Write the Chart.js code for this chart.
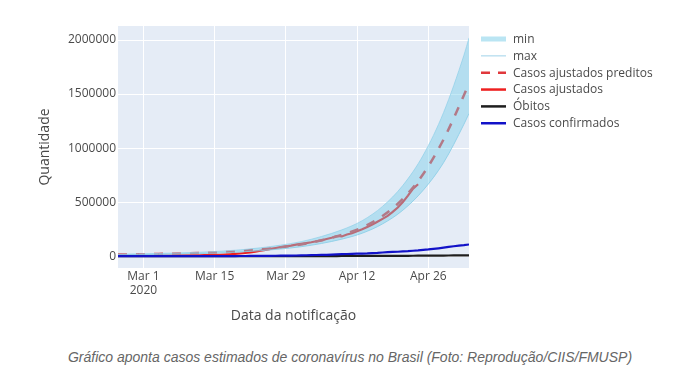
<!DOCTYPE html>
<html>
<head>
<meta charset="utf-8">
<script src="https://cdn.jsdelivr.net/npm/chart.js@4"></script>
<style>
  html, body { margin: 0; padding: 0; background: #ffffff; }
  #wrap { position: relative; width: 675px; height: 383px; overflow: hidden; }
  #c { position: absolute; left: 0; top: 0; }
  #caption { position: absolute; left: 25px; width: 650px; top: 349px; text-align: center;
             font: italic 14px "Liberation Sans", Arial, sans-serif; color: #666; }
</style>
</head>
<body>
<div id="wrap">
  <canvas id="c" width="675" height="340"></canvas>
  <div id="caption">Gráfico aponta casos estimados de coronavírus no Brasil (Foto: Reprodução/CIIS/FMUSP)</div>
</div>
<script>
// ---------------- DATA ----------------
const seriesNames = ["min", "max", "Casos ajustados preditos", "Casos ajustados", "Óbitos", "Casos confirmados"];

// daily dates Feb 25 – May 4, 2020
const dailyDates = (function () {
  const out = [];
  const months = [["02", 25, 29], ["03", 1, 31], ["04", 1, 30], ["05", 1, 4]];
  months.forEach(([m, a, b]) => { for (let d = a; d <= b; d++) out.push("2020-" + m + "-" + String(d).padStart(2, "0")); });
  return out;
})();

// Casos confirmados (daily)
const confirmed = [0, 1, 1, 1, 2,
  2, 2, 2, 3, 8, 13, 19, 25, 25, 34, 52, 77, 98, 121, 200, 234, 291, 428, 621, 904, 1128, 1546, 1891, 2201, 2433, 2915, 3417, 3904, 4256, 4579, 5717,
  6836, 8044, 9056, 10360, 11130, 12056, 13717, 15927, 17857, 19638, 20727, 22169, 23430, 25262, 28320, 30425, 33682, 36599, 38654, 40581, 43079, 45757, 49492, 52995, 58509, 61888, 66501, 71886, 78162, 85380,
  91589, 96559, 101147, 107780];

// Óbitos (daily)
const deaths = [0, 0, 0, 0, 0,
  0, 0, 0, 0, 0, 0, 0, 0, 0, 0, 0, 0, 0, 0, 0, 0, 1, 3, 6, 11, 18, 25, 34, 46, 59, 77, 92, 111, 136, 159, 201,
  240, 324, 359, 445, 486, 553, 667, 800, 941, 1056, 1124, 1223, 1328, 1532, 1736, 1924, 2141, 2347, 2462, 2575, 2741, 2906, 3313, 3670, 4016, 4205, 4543, 5017, 5466, 5901,
  6329, 6750, 7025, 7321];

// Casos ajustados (daily, Feb 25 – Apr 24)
const adjusted = [1000, 1200, 1500, 1800, 2200,
  2600, 3000, 3500, 4000, 4500, 5000, 5500, 6000, 6500, 7000, 7600, 8200, 9000, 10000, 11000, 12500, 14500, 17000, 20000, 24000, 29000, 35000, 42000, 50000, 58000, 67000, 75000, 83000, 90000, 97000, 106000,
  113000, 121000, 128000, 138000, 146000, 158000, 170000, 186000, 182000, 200000, 212000, 230000, 248000, 270000, 292000, 318000, 345000, 372000, 410000, 450000, 500000, 560000, 625000, 665000];

// predicted curve and its bounds
const predDates = ["2020-02-25", "2020-02-29", "2020-03-04", "2020-03-08", "2020-03-12", "2020-03-16", "2020-03-20", "2020-03-24",
  "2020-03-28", "2020-04-01", "2020-04-05", "2020-04-09", "2020-04-13", "2020-04-17", "2020-04-21", "2020-04-25", "2020-04-29", "2020-05-03", "2020-05-04"];
const predicted = [15000, 17000, 20000, 24000, 29000, 36000, 47000, 62000, 82000, 108000, 146000, 196000, 265000, 372000, 530000, 760000, 1080000, 1490000, 1600000];
const maxBound = [18000, 21000, 25000, 30000, 36000, 45000, 58000, 77000, 102000, 134000, 182000, 243000, 328000, 460000, 655000, 935000, 1330000, 1860000, 2020000];
const minBound = [12000, 14000, 16000, 19000, 23000, 29000, 38000, 50000, 66000, 87000, 117000, 157000, 212000, 298000, 425000, 610000, 865000, 1220000, 1320000];

// axis ticks
const xTickDates = ["2020-03-01", "2020-03-15", "2020-03-29", "2020-04-12", "2020-04-26"];
const xTickLabels = [["Mar 1", "2020"], "Mar 15", "Mar 29", "Apr 12", "Apr 26"];
const yTickValues = [0, 500000, 1000000, 1500000, 2000000];

// ---------------- HELPERS ----------------
const ORIGIN = Date.UTC(2020, 2, 1);
function dayOf(s) { const [y, m, d] = s.split("-").map(Number); return (Date.UTC(y, m - 1, d) - ORIGIN) / 86400000; }
function pts(dates, vals) { return dates.map((d, i) => ({ x: dayOf(d), y: vals[i] })).filter(p => p.y !== null && p.y !== undefined); }

const xTickDays = xTickDates.map(dayOf);

const bandFill = "rgba(118,204,232,0.44)";
const colors = {
  min: "rgba(135,205,230,0.8)",
  max: "rgba(160,212,235,0.8)",
  pred: "#e0383c",
  adj: "#ee2020",
  deaths: "#1e1e1e",
  conf: "#1212c8"
};

const bgPlugin = {
  id: "plotbg",
  beforeDraw(chart) {
    const { ctx, chartArea: a } = chart;
    ctx.save();
    ctx.fillStyle = "#E5ECF6";
    ctx.fillRect(a.left, a.top, a.right - a.left, a.bottom - a.top);
    ctx.restore();
  }
};

const legendPlugin = {
  id: "customLegend",
  afterDraw(chart) {
    const ctx = chart.ctx;
    const x0 = 481, x1 = 506, tx = 513, y0 = 39, dy = 16.85;
    ctx.save();
    ctx.font = '12px "Open Sans", sans-serif';
    ctx.textBaseline = "middle";
    const styles = [
      { type: "rect", color: "rgba(118,204,232,0.5)" },
      { type: "line", color: "rgba(175,218,236,1)", width: 1.2, dash: [] },
      { type: "line", color: colors.pred, width: 2.5, dash: [9, 8] },
      { type: "line", color: colors.adj, width: 2.5, dash: [] },
      { type: "line", color: colors.deaths, width: 2.5, dash: [] },
      { type: "line", color: colors.conf, width: 2.5, dash: [] }
    ];
    seriesNames.forEach((name, i) => {
      const y = y0 + i * dy;
      const s = styles[i];
      if (s.type === "rect") {
        ctx.fillStyle = s.color;
        ctx.fillRect(x0, y - 2.5, x1 - x0, 5);
      } else {
        ctx.strokeStyle = s.color;
        ctx.lineWidth = s.width;
        ctx.setLineDash(s.dash);
        ctx.beginPath();
        ctx.moveTo(x0, y);
        ctx.lineTo(x1, y);
        ctx.stroke();
        ctx.setLineDash([]);
      }
      ctx.fillStyle = "#4a4a4a";
      ctx.fillText(name, tx, y + 0.5);
    });
    ctx.restore();
  }
};

function draw() {
  const tickFont = { family: '"Open Sans", sans-serif', size: 12 };
  new Chart(document.getElementById("c"), {
    type: "line",
    data: {
      datasets: [
        { label: seriesNames[0], data: pts(predDates, minBound), borderColor: colors.min, borderWidth: 1,
          backgroundColor: bandFill, fill: 1, cubicInterpolationMode: "monotone", pointRadius: 0, order: 2 },
        { label: seriesNames[1], data: pts(predDates, maxBound), borderColor: colors.max, borderWidth: 1,
          fill: false, cubicInterpolationMode: "monotone", pointRadius: 0, order: 2 },
        { label: seriesNames[2], data: pts(predDates, predicted), borderColor: colors.pred, borderWidth: 2.5,
          borderDash: [9, 9], fill: false, cubicInterpolationMode: "monotone", pointRadius: 0, order: 4 },
        { label: seriesNames[3], data: pts(dailyDates, adjusted), borderColor: colors.adj, borderWidth: 2.2,
          fill: false, tension: 0, pointRadius: 0, order: 5 },
        { label: seriesNames[4], data: pts(dailyDates, deaths), borderColor: colors.deaths, borderWidth: 2.2,
          fill: false, tension: 0, pointRadius: 0, order: 1 },
        { label: seriesNames[5], data: pts(dailyDates, confirmed), borderColor: colors.conf, borderWidth: 2.2,
          fill: false, tension: 0, pointRadius: 0, order: 0 }
      ]
    },
    options: {
      responsive: false,
      animation: false,
      events: [],
      layout: { padding: { left: 0, right: 206, top: 26, bottom: 12 } },
      plugins: { legend: { display: false }, tooltip: { enabled: false } },
      scales: {
        x: {
          type: "linear",
          min: dayOf(dailyDates[0]),
          max: dayOf(dailyDates[dailyDates.length - 1]),
          afterBuildTicks(scale) { scale.ticks = xTickDays.map(v => ({ value: v })); },
          afterFit(scale) { scale.height = 60; },
          ticks: {
            autoSkip: false, maxRotation: 0, padding: 1, color: "#4a4a4a", font: tickFont,
            callback(value) { const i = xTickDays.indexOf(value); return i >= 0 ? xTickLabels[i] : ""; }
          },
          grid: { color: "#ffffff", lineWidth: 1, drawTicks: false },
          border: { display: false },
          title: { display: true, text: "Data da notificação", color: "#4a4a4a",
                   font: { family: '"Open Sans", sans-serif', size: 14 }, padding: { top: 0, bottom: 4 } }
        },
        y: {
          type: "linear",
          min: -110000,
          max: 2130000,
          afterBuildTicks(scale) { scale.ticks = yTickValues.map(v => ({ value: v })); },
          afterFit(scale) { scale.width = 118; },
          ticks: { padding: 2, color: "#4a4a4a", font: tickFont, callback(v) { return String(v); } },
          grid: { color: "#ffffff", lineWidth: 1, drawTicks: false },
          border: { display: false },
          title: { display: true, text: "Quantidade", color: "#4a4a4a",
                   font: { family: '"Open Sans", sans-serif', size: 14 }, padding: { top: 37, bottom: 0 } }
        }
      }
    },
    plugins: [bgPlugin, legendPlugin]
  });
}

if (document.fonts && document.fonts.load) {
  Promise.all([document.fonts.load('12px "Open Sans"'), document.fonts.load('14px "Open Sans"')]).then(draw, draw);
} else { draw(); }
</script>
</body>
</html>
